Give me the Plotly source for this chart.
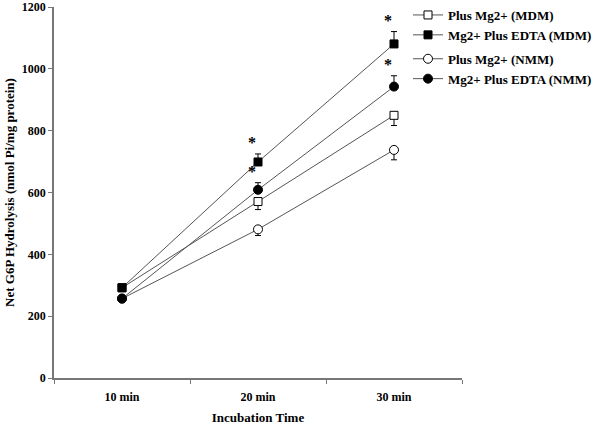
import plotly.graph_objects as go

times = ["10 min", "20 min", "30 min"]

mdm_mg = [292, 571, 850]
mdm_mg_err = [0, 26, 33]
mdm_edta = [292, 699, 1081]
mdm_edta_err = [0, 26, 40]
nmm_mg = [257, 481, 738]
nmm_mg_err = [0, 20, 32]
nmm_edta = [257, 609, 943]
nmm_edta_err = [0, 23, 35]

sig_times = ["20 min", "20 min", "30 min", "30 min"]
sig_base = [699 + 26, 609 + 23, 1081 + 40, 943 + 35]

FONT = "Liberation Serif, Times New Roman, serif"
LINE = "#555555"

fig = go.Figure()

def add(name, y, err, symbol, fill, upper, group):
    zeros = [0] * len(err)
    fig.add_trace(go.Scatter(
        x=times, y=y, name=name, mode="lines+markers",
        legendgroup=group,
        line=dict(color=LINE, width=1),
        marker=dict(symbol=symbol, size=8 if "square" in symbol else 9,
                    color=fill, line=dict(color="black", width=1)),
        error_y=dict(type="data", symmetric=False,
                     array=err if upper else zeros,
                     arrayminus=zeros if upper else err,
                     color="black", thickness=1, width=3),
    ))

add("Plus Mg2+ (MDM)", mdm_mg, mdm_mg_err, "square", "white", False, "mdm")
add("Mg2+ Plus EDTA (MDM)", mdm_edta, mdm_edta_err, "square", "black", True, "mdm")
add("Plus Mg2+ (NMM)", nmm_mg, nmm_mg_err, "circle", "white", False, "nmm")
add("Mg2+ Plus EDTA (NMM)", nmm_edta, nmm_edta_err, "circle", "black", True, "nmm")

for t, yb in zip(sig_times, sig_base):
    fig.add_annotation(x=t, y=yb, text="*", showarrow=False, xshift=-6, yshift=11,
                       font=dict(family=FONT, size=16, color="black", weight="bold"))

fig.update_layout(
    width=601, height=425,
    margin=dict(l=54, r=139, t=7, b=47, autoexpand=False),
    paper_bgcolor="white", plot_bgcolor="white",
    font=dict(family=FONT, size=12, color="black", weight="bold"),
    showlegend=True,
    legend=dict(x=408 / 601, y=1.0, xref="container", yref="container",
                xanchor="left", yanchor="top",
                traceorder="grouped", tracegroupgap=4,
                font=dict(family=FONT, size=13, color="black", weight="bold"),
                itemwidth=30, bgcolor="rgba(0,0,0,0)"),
    xaxis=dict(type="category", range=[-0.5, 2.5], showline=True, linecolor="#777777", linewidth=1.5,
               ticks="outside", tickson="boundaries", ticklen=4, tickcolor="#777777",
               ticklabelstandoff=7,
               showgrid=False, zeroline=False,
               title=dict(text="Incubation Time", standoff=10,
                          font=dict(family=FONT, size=13, weight="bold")),
               tickfont=dict(family=FONT, size=12, weight="bold")),
    yaxis=dict(range=[0, 1200.5], tickvals=[0, 200, 400, 600, 800, 1000, 1200],
               ticklabeloverflow="allow",
               showline=True, linecolor="#777777", linewidth=1.5,
               ticks="outside", ticklen=4, tickcolor="#777777",
               showgrid=False, zeroline=False,
               title=dict(text="Net G6P Hydrolysis (nmol Pi/mg protein)", standoff=4,
                          font=dict(family=FONT, size=13, weight="bold")),
               tickfont=dict(family=FONT, size=12, weight="bold")),
)

fig.write_html("out.html", config={"displayModeBar": False},
               post_script="document.body.style.margin='0';document.body.style.overflow='hidden';")
